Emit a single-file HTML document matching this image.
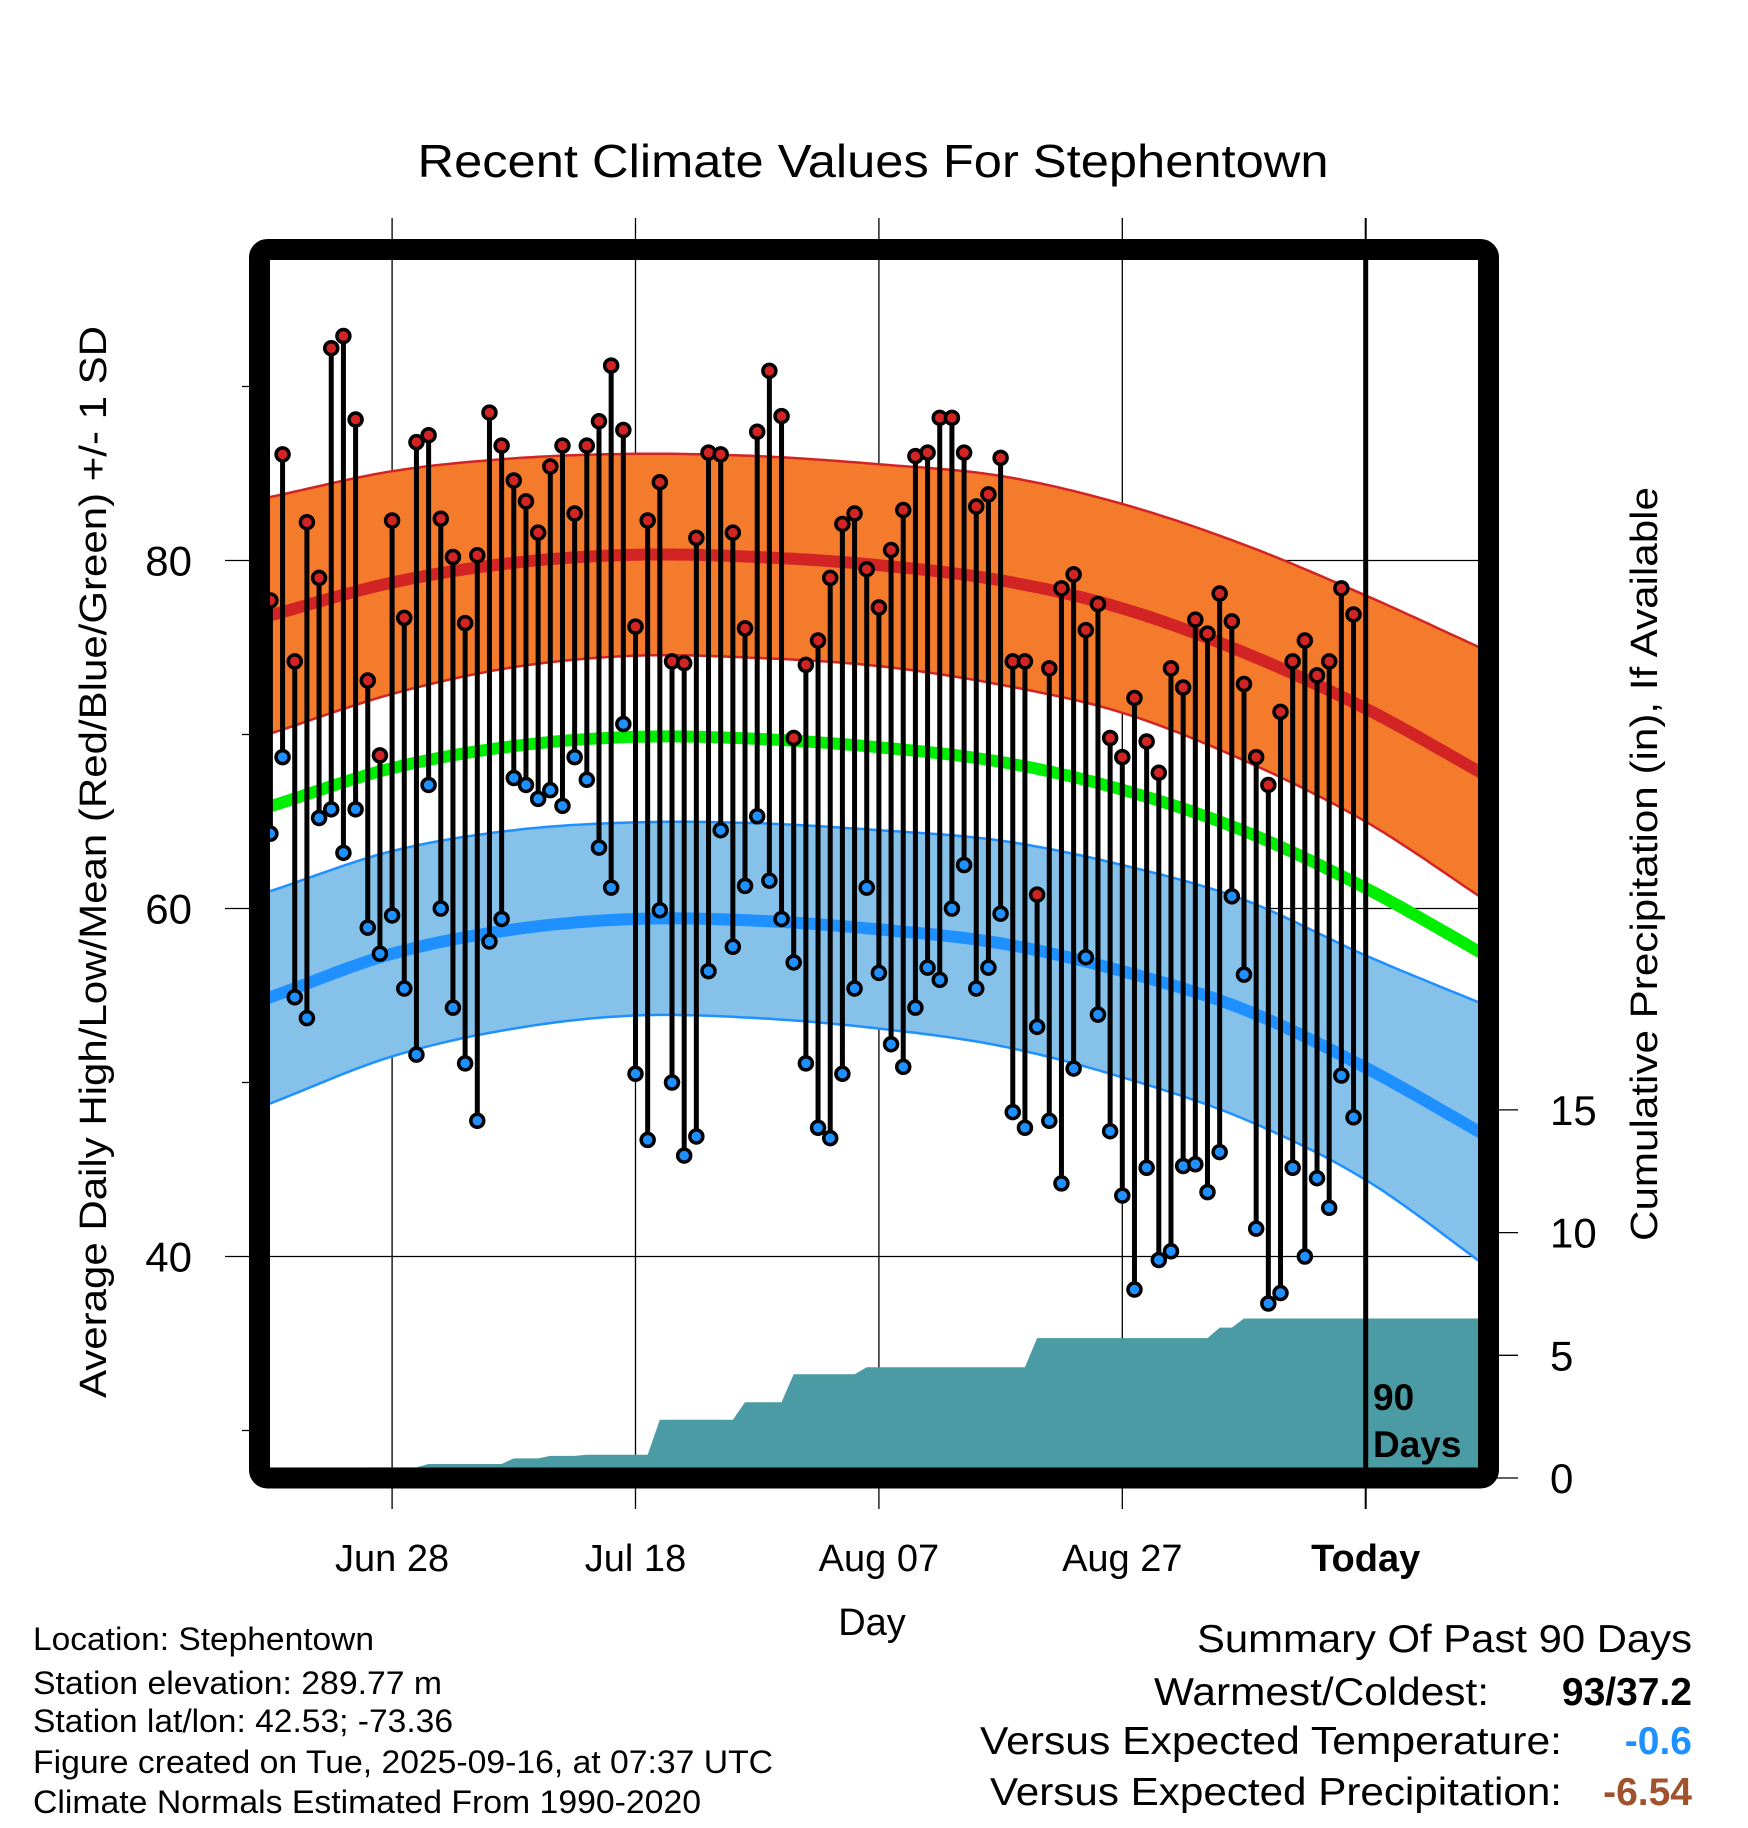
<!DOCTYPE html>
<html><head><meta charset="utf-8"><style>
html,body{margin:0;padding:0;background:#fff;}
svg{display:block;font-family:"Liberation Sans",sans-serif;}
</style></head><body>
<svg id="chart" width="1748" height="1828" viewBox="0 0 1748 1828" xmlns="http://www.w3.org/2000/svg">
<defs><clipPath id="plotclip"><rect x="270" y="260" width="1208" height="1208"/></clipPath></defs>
<rect x="0" y="0" width="1748" height="1828" fill="#fff"/>
<text x="873" y="177" font-size="46" text-anchor="middle" textLength="911" lengthAdjust="spacingAndGlyphs">Recent Climate Values For Stephentown</text>
<g id="grid"></g>
<g id="plot" clip-path="url(#plotclip)"></g>
<g id="axes"></g>
<rect x="259.5" y="249.5" width="1229" height="1228.5" rx="8" fill="none" stroke="#000" stroke-width="21"/>
<text transform="translate(106,862) rotate(-90)" font-size="38" text-anchor="middle" textLength="1072" lengthAdjust="spacingAndGlyphs">Average Daily High/Low/Mean (Red/Blue/Green) +/- 1 SD</text>
<text transform="translate(1657,864) rotate(-90)" font-size="38" text-anchor="middle" textLength="754" lengthAdjust="spacingAndGlyphs">Cumulative Precipitation (in), If Available</text>
<text x="872" y="1635" font-size="38" text-anchor="middle">Day</text>
<text x="1373" y="1410" font-size="37" font-weight="bold">90</text>
<text x="1373" y="1457" font-size="37" font-weight="bold">Days</text>
<g font-size="32">
<text x="33" y="1650" textLength="341" lengthAdjust="spacingAndGlyphs">Location: Stephentown</text>
<text x="33" y="1694" textLength="409" lengthAdjust="spacingAndGlyphs">Station elevation: 289.77 m</text>
<text x="33" y="1732" textLength="420" lengthAdjust="spacingAndGlyphs">Station lat/lon: 42.53; -73.36</text>
<text x="33" y="1773" textLength="740" lengthAdjust="spacingAndGlyphs">Figure created on Tue, 2025-09-16, at 07:37 UTC</text>
<text x="33" y="1813" textLength="668" lengthAdjust="spacingAndGlyphs">Climate Normals Estimated From 1990-2020</text>
</g>
<g font-size="39" text-anchor="end">
<text x="1692" y="1652" textLength="495" lengthAdjust="spacingAndGlyphs">Summary Of Past 90 Days</text>
<text x="1489" y="1705" textLength="335" lengthAdjust="spacingAndGlyphs">Warmest/Coldest:</text>
<text x="1692" y="1705" font-weight="bold">93/37.2</text>
<text x="1562" y="1754" textLength="582" lengthAdjust="spacingAndGlyphs">Versus Expected Temperature:</text>
<text x="1692" y="1754" font-weight="bold" fill="#1e90ff">-0.6</text>
<text x="1562" y="1805" textLength="572" lengthAdjust="spacingAndGlyphs">Versus Expected Precipitation:</text>
<text x="1692" y="1805" font-weight="bold" fill="#a0522d">-6.54</text>
</g>
</svg>
<script>
// Daily observed highs and lows (deg F), 90 days
const highs = [77.7,86.1,74.2,82.2,79.0,92.2,92.9,88.1,73.1,68.8,82.3,76.7,86.8,87.2,82.4,80.2,76.4,80.3,88.5,86.6,
84.6,83.4,81.6,85.4,86.6,82.7,86.6,88.0,91.2,87.5,76.2,82.3,84.5,74.2,74.1,81.3,86.2,86.1,81.6,76.1,
87.4,90.9,88.3,69.8,74.0,75.4,79.0,82.1,82.7,79.5,77.3,80.6,82.9,86.0,86.2,88.2,88.2,86.2,83.1,83.8,
85.9,74.2,74.2,60.8,73.8,78.4,79.2,76.0,77.5,69.8,68.7,72.1,69.6,67.8,73.8,72.7,76.6,75.8,78.1,76.5,
72.9,68.7,67.1,71.3,74.2,75.4,73.4,74.2,78.4,76.9];
const lows = [64.3,68.7,54.9,53.7,65.2,65.7,63.2,65.7,58.9,57.4,59.6,55.4,51.6,67.1,60.0,54.3,51.1,47.8,58.1,59.4,
67.5,67.1,66.3,66.8,65.9,68.7,67.4,63.5,61.2,70.6,50.5,46.7,59.9,50.0,45.8,46.9,56.4,64.5,57.8,61.3,
65.3,61.6,59.4,56.9,51.1,47.4,46.8,50.5,55.4,61.2,56.3,52.2,50.9,54.3,56.6,55.9,60.0,62.5,55.4,56.6,
59.7,48.3,47.4,53.2,47.8,44.2,50.8,57.2,53.9,47.2,43.5,38.1,45.1,39.8,40.3,45.2,45.3,43.7,46.0,60.7,
56.2,41.6,37.3,37.9,45.1,40.0,44.5,42.8,50.4,48.0];
// Daily precipitation (in)
const precip = [0,0,0,0,0,0,0,0,0.43,0,0,0,0,0.14,0,0,0,0,0,0,
0.23,0,0,0.1,0,0,0.05,0,0,0,0,0,1.42,0,0,0,0,0,0,0.72,
0,0,0,1.14,0,0,0,0,0,0.28,0,0,0,0,0,0,0,0,0,0,
0,0,0,1.19,0,0,0,0,0,0,0,0,0,0,0,0,0,0,0.43,0,
0.37,0,0,0,0,0,0,0,0,0];
// Climate normals sampled by day index
const normDays = [0,10,20,30,40,50,60,70,80,90,100];
const normHigh = [76.85,78.73,79.87,80.33,80.2,79.73,78.86,77.25,74.71,71.49,67.6];
const normHighSD = [6.8,6.4,6.0,5.8,5.8,5.8,6.0,6.0,6.2,6.5,7.2];
const normLow = [54.9,57.4,58.8,59.4,59.3,58.8,58.0,56.4,54.2,50.85,46.9];
const normLowSD = [6.1,5.9,5.7,5.55,5.6,5.7,5.9,6.1,6.3,6.45,7.5];
const xTickDays = [10,30,50,70,90];
const xTickLabels = ["Jun 28","Jul 18","Aug 07","Aug 27","Today"];
const yTicks = [40,60,80];
const yMinor = [30,50,70,90];
const pTicks = [0,5,10,15];

const NS="http://www.w3.org/2000/svg";
const X = d => 270.4 + 12.17*d;
const Y = t => 560.5 - (t-80)*17.40;
const P = p => 1478 - p*24.54;
function mk(tag, attrs, parent){const e=document.createElementNS(NS,tag);for(const k in attrs)e.setAttribute(k,attrs[k]);parent.appendChild(e);return e;}
const grid=document.getElementById('grid'), plot=document.getElementById('plot'), axes=document.getElementById('axes');

// smooth interpolation of normals for drawing (Catmull-Rom, linear end extrapolation)
function cr(arr, d){
  const n=arr.length;
  let k=0; while(k<n-2 && d>normDays[k+1]) k++;
  const t=(d-normDays[k])/(normDays[k+1]-normDays[k]);
  const p1=arr[k],p2=arr[k+1];
  const p0=k>0?arr[k-1]:2*p1-p2;
  const p3=k+2<n?arr[k+2]:2*p2-p1;
  return 0.5*((2*p1)+(-p0+p2)*t+(2*p0-5*p1+4*p2-p3)*t*t+(-p0+3*p1-3*p2+p3)*t*t*t);
}
const samples=[]; for(let d=-1; d<=100; d+=0.5) samples.push(d);
function curve(fn){return samples.map(d=>X(d).toFixed(1)+','+Y(fn(d)).toFixed(1));}
const hiTop=d=>cr(normHigh,d)+cr(normHighSD,d), hiBot=d=>cr(normHigh,d)-cr(normHighSD,d);
const loTop=d=>cr(normLow,d)+cr(normLowSD,d), loBot=d=>cr(normLow,d)-cr(normLowSD,d);

// grid lines
xTickDays.forEach((d,i)=>{
  const l=mk('line',{x1:X(d),x2:X(d),y1:218,y2:1509,stroke:'#000','stroke-width':i===4?2:1.3},grid);
  
  
  const t=mk('text',{x:X(d),y:1571,'font-size':38,'text-anchor':'middle','font-weight':i===4?'bold':'normal'},axes);
  t.textContent=xTickLabels[i];
  
  
});
yTicks.forEach(v=>{
  const l=mk('line',{x1:225,x2:1478,y1:Y(v),y2:Y(v),stroke:'#000','stroke-width':1.3},grid);
  
  
  const t=mk('text',{x:192,y:Y(v)+15,'font-size':42,'text-anchor':'end'},axes);
  t.textContent=v;
  
  
});
yMinor.forEach(v=>{
  const l=mk('line',{x1:242,x2:254,y1:Y(v),y2:Y(v),stroke:'#000','stroke-width':1.3},axes);
  
  
});
pTicks.forEach(v=>{
  const l=mk('line',{x1:1490,x2:1518,y1:P(v),y2:P(v),stroke:'#000','stroke-width':1.3},axes);
  
  
  const t=mk('text',{x:1550,y:P(v)+15,'font-size':42},axes);
  t.textContent=v;
  
  
});

// bands
const hb=mk('polygon',{points:curve(hiTop).concat(curve(hiBot).reverse()).join(' '),fill:'#f47a2c'},plot);


const lb=mk('polygon',{points:curve(loTop).concat(curve(loBot).reverse()).join(' '),fill:'#85c1e9'},plot);


[[hiTop,'#d22424',2.5,'high-band-top'],[hiBot,'#d22424',2.5,'high-band-bottom'],[loTop,'#1e90ff',2.5,'low-band-top'],[loBot,'#1e90ff',2.5,'low-band-bottom'],
 [d=>cr(normHigh,d),'#d22424',12,'normal-high-line'],[d=>cr(normLow,d),'#1e90ff',12,'normal-low-line'],
 [d=>(cr(normHigh,d)+cr(normLow,d))/2,'#00ee00',12,'normal-mean-line']].forEach(c=>{
  const p=mk('polyline',{points:curve(c[0]).join(' '),fill:'none',stroke:c[1],'stroke-width':c[2]},plot);
  
  
});

// precipitation cumulative area
let cum=0; const pp=[X(-1)+','+P(0)];
precip.forEach((v,i)=>{cum+=v; pp.push(X(i).toFixed(1)+','+P(cum).toFixed(1));});
pp.push(X(100)+','+P(cum)); pp.push(X(100)+','+P(-2)); pp.push(X(-1)+','+P(-2));
const pa=mk('polygon',{points:pp.join(' '),fill:'#4a9ba4'},plot);



// today line
const tl=mk('line',{x1:X(90),x2:X(90),y1:250,y2:1478,stroke:'#000','stroke-width':5},plot);



// daily stems and markers
highs.forEach((h,i)=>{
  const s=mk('line',{x1:X(i),x2:X(i),y1:Y(h),y2:Y(lows[i]),stroke:'#000','stroke-width':5},plot);
  
  
});
highs.forEach((h,i)=>{
  const a=mk('circle',{cx:X(i),cy:Y(h),r:6.5,fill:'#d22424',stroke:'#000','stroke-width':3.5},plot);
  
  
  const b=mk('circle',{cx:X(i),cy:Y(lows[i]),r:6.5,fill:'#1e90ff',stroke:'#000','stroke-width':3.5},plot);
  
  
});
</script>
</body></html>
